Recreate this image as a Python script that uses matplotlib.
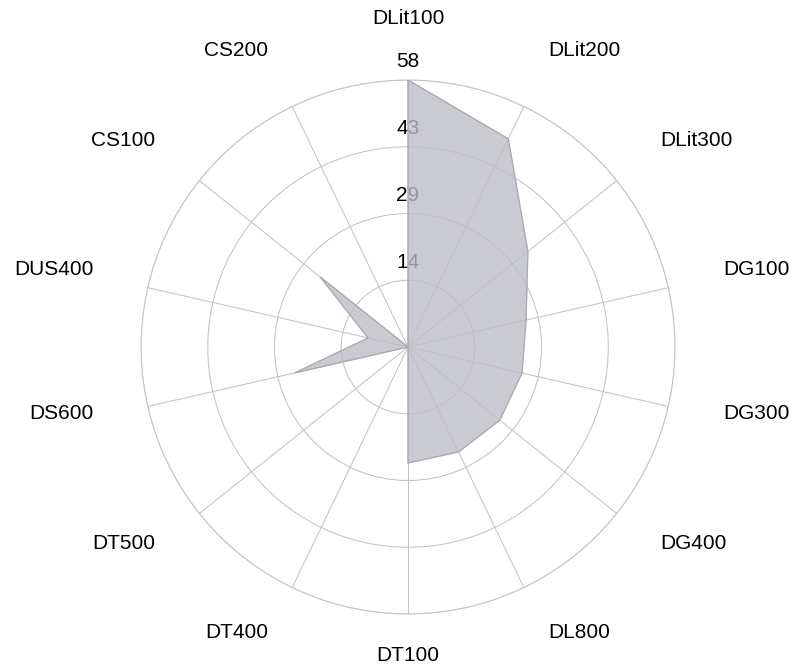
import numpy as np
import matplotlib.pyplot as plt

plt.rcParams['font.family'] = ['Liberation Sans', 'DejaVu Sans']

# categories clockwise from the top
categories = ['DLit100', 'DLit200', 'DLit300', 'DG100', 'DG300', 'DG400', 'DL800',
              'DT100', 'DT400', 'DT500', 'DS600', 'DUS400', 'CS100', 'CS200']
values = [58, 50.2, 33.3, 26.3, 25.4, 25.5, 25.3,
          25.2, 0, 0, 25.2, 8.9, 24.4, 0]
r_max = 58
r_ticks = [14.5, 29, 43.5, 58]
r_tick_labels = ['14', '29', '43', '58']

fig = plt.figure(figsize=(7.95, 6.72), dpi=100)
ax = fig.add_axes([0.1774, 0.0863, 0.6717, 0.7946], projection='polar')
ax.set_theta_zero_location('N')
ax.set_theta_direction(-1)

n = len(categories)
theta = np.arange(n) * 2 * np.pi / n
th_closed = np.append(theta, theta[0])
v_closed = np.append(values, values[0])

ax.set_ylim(0, r_max)
ax.set_yticks(r_ticks)
ax.set_yticklabels([])
ax.set_xticks(theta)
ax.set_xticklabels([])
ax.grid(True, color='#c4c4c4', linewidth=0.75)
ax.spines['polar'].set_color('#c4c4c4')
ax.spines['polar'].set_linewidth(0.75)

# radial tick labels, placed under the fill so it greys them out
for r, lab in zip(r_ticks, r_tick_labels):
    ax.annotate(lab, xy=(0, r), xytext=(0, 13), textcoords='offset points',
                ha='center', va='center', fontsize=15, color='black',
                zorder=1, annotation_clip=False)

ax.fill(th_closed, v_closed, color='#bdbec5', alpha=0.8, zorder=3)
ax.plot(th_closed, v_closed, color='#a9aab1', linewidth=0.8, zorder=4)

# category labels around the outside
for t, name in zip(theta, categories):
    s = np.sin(t)
    if s > 0.01:
        ha = 'left'
    elif s < -0.01:
        ha = 'right'
    else:
        ha = 'center'
    # bottom label sits a little closer so it stays inside the figure
    r_lab = r_max * (314 if np.cos(t) < -0.99 else 323) / 267
    ax.annotate(name, xy=(t, r_lab), xytext=(0, 3.8), textcoords='offset points',
                ha=ha, va='center', fontsize=15, annotation_clip=False)

fig.savefig('out.png', dpi=100)
